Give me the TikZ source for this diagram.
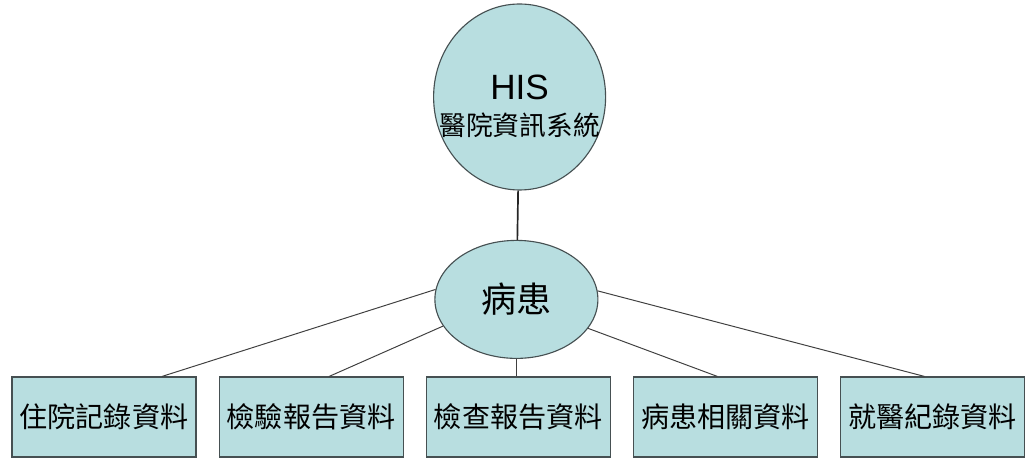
\documentclass[tikz,border=0pt]{standalone}
\usepackage{fontspec}
\setmainfont{Liberation Sans}
\newfontfamily\cjk{Noto Sans CJK TC}
\usepackage{tikz}
\usetikzlibrary{shapes.geometric, positioning}
\definecolor{hiscyan}{RGB}{184,222,224}
\definecolor{hisedge}{RGB}{70,80,82}
\tikzset{
    hisround/.style={ellipse, draw=hisedge, fill=hiscyan, line width=0.8pt, align=center, inner sep=0pt},
    hisbox/.style={rectangle, draw=hisedge, fill=hiscyan, line width=0.8pt, minimum width=4.6cm, minimum height=2cm, inner sep=0pt, font=\cjk\fontsize{20}{22}\selectfont},
    hislink/.style={draw=black!75, line width=0.7pt},
    hisstem/.style={draw=black!85, line width=1.2pt}
}

\begin{document}
\begin{tikzpicture}[node distance=0.55cm]
\useasboundingbox (0,0) rectangle (25.675,11.725);

\node[hisround, minimum width=4.3cm, minimum height=4.65cm,
    label={[align=center, inner sep=0pt, font=\fontsize{25}{28}\selectfont]center:\rule{0pt}{31pt}HIS\\[-2pt]{\cjk\fontsize{19}{21}\selectfont 醫院資訊系統}}] (his) at (12.99,9.3) {};
\node[hisround, minimum width=4.075cm, minimum height=2.95cm, font=\cjk\fontsize{25}{28}\selectfont] (patient) at (12.91,4.24) {病患};

\node[hisbox] (inpat) at (2.6,1.3) {住院記錄資料};
\node[hisbox, right=of inpat] (labrep) {檢驗報告資料};
\node[hisbox, right=of labrep] (examrep) {檢查報告資料};
\node[hisbox, right=of examrep] (related) {病患相關資料};
\node[hisbox, right=of related] (visit) {就醫紀錄資料};

\draw[hisstem] (his) -- (patient);
\draw[hislink] (patient.173) -- ([xshift=1.45cm]inpat.north);
\draw[hislink] (patient.200) -- ([xshift=0.45cm]labrep.north);
\draw[hislink] (patient.south) -- (patient.south |- examrep.north);
\draw[hislink] (patient.338) -- ([xshift=-0.2cm]related.north);
\draw[hislink] (patient.6) -- ([xshift=-0.2cm]visit.north);

\end{tikzpicture}
\end{document}
